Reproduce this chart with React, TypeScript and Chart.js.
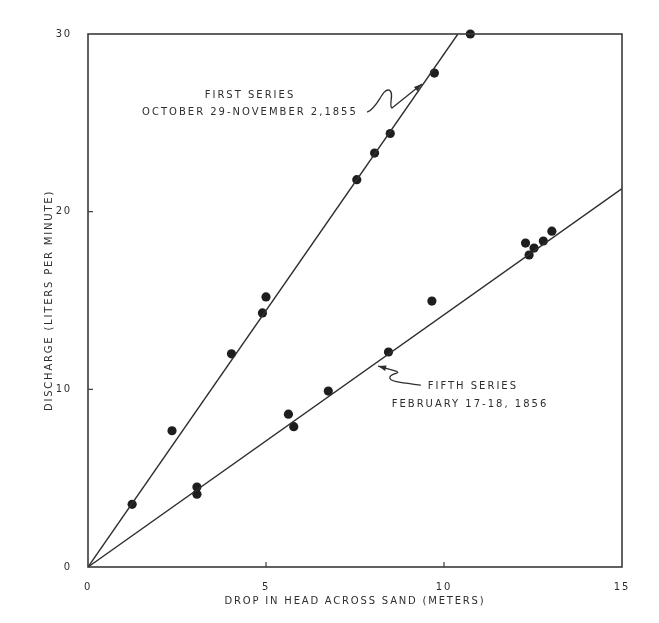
import React, { useEffect, useRef } from "react";
import { Chart, registerables } from "chart.js";

Chart.register(...registerables);

// ---- data ----
const xTickValues = [0, 5, 10, 15];
const yTickValues = [0, 10, 20, 30];

const firstSeriesX = [1.24, 2.36, 4.03, 4.9, 5.0, 7.55, 8.05, 8.49, 9.73, 10.74];
const firstSeriesY = [3.53, 7.67, 12.0, 14.3, 15.2, 21.8, 23.3, 24.4, 27.8, 30.0];

const fifthSeriesX = [3.06, 3.06, 5.63, 5.78, 6.75, 8.44, 9.66, 12.29, 12.39, 12.53, 12.79, 13.03];
const fifthSeriesY = [4.5, 4.1, 8.6, 7.9, 9.9, 12.1, 14.97, 18.23, 17.56, 17.95, 18.35, 18.9];

const firstFitX = [0, 10.39];
const firstFitY = [0, 30];
const fifthFitX = [0, 15];
const fifthFitY = [0, 21.3];

const xTitle = "DROP IN HEAD ACROSS SAND (METERS)";
const yTitle = "DISCHARGE (LITERS PER MINUTE)";

const noteTexts = ["FIRST SERIES", "OCTOBER 29-NOVEMBER 2,1855", "FIFTH SERIES", "FEBRUARY 17-18, 1856"];
const noteX = [4.55, 4.55, 10.81, 10.73];
const noteY = [26.56, 25.6, 10.19, 9.17];

// squiggly arrows (data units): start, two cubic segments, tip
const squiggles = [
  {
    start: [7.84, 25.6],
    curves: [
      [8.15, 25.83, 8.26, 26.96, 8.46, 26.84],
      [8.62, 26.73, 8.43, 25.94, 8.54, 25.83],
    ],
    tip: [9.38, 27.18],
  },
  {
    start: [9.35, 10.24],
    curves: [
      [8.9, 10.35, 8.43, 10.41, 8.48, 10.69],
      [8.54, 10.97, 8.82, 10.86, 8.65, 11.03],
    ],
    tip: [8.15, 11.31],
  },
];

const INK = "#2e2e2e";
const FONT = '"DejaVu Sans", "Liberation Sans", sans-serif';

const toPts = (xs: number[], ys: number[]) => xs.map((x, i) => ({ x, y: ys[i] }));

const decorPlugin = {
  id: "decor",
  beforeDraw(chart: any) {
    const ctx = chart.ctx;
    ctx.save();
    ctx.fillStyle = "#ffffff";
    ctx.fillRect(0, 0, chart.width, chart.height);
    ctx.restore();
    (ctx as any).letterSpacing = "1.8px";
  },
  afterDraw(chart: any) {
    const ctx = chart.ctx;
    const xs = chart.scales.x;
    const ys = chart.scales.y;
    const { left, right, top, bottom } = chart.chartArea;
    ctx.save();
    // frame
    ctx.strokeStyle = "#3a3a3a";
    ctx.lineWidth = 1.6;
    ctx.strokeRect(left, top, right - left, bottom - top);
    // inward tick marks
    ctx.lineWidth = 1.2;
    xTickValues.slice(1, -1).forEach((v) => {
      const px = xs.getPixelForValue(v);
      ctx.beginPath();
      ctx.moveTo(px, bottom);
      ctx.lineTo(px, bottom - 5);
      ctx.stroke();
    });
    yTickValues.slice(1, -1).forEach((v) => {
      const py = ys.getPixelForValue(v);
      ctx.beginPath();
      ctx.moveTo(left, py);
      ctx.lineTo(left + 5, py);
      ctx.stroke();
    });
    // notes
    (ctx as any).letterSpacing = "2px";
    ctx.fillStyle = INK;
    ctx.font = `10px ${FONT}`;
    ctx.textAlign = "center";
    ctx.textBaseline = "middle";
    noteTexts.forEach((t, i) => {
      ctx.fillText(t, xs.getPixelForValue(noteX[i]), ys.getPixelForValue(noteY[i]));
    });
    // squiggly arrows
    ctx.strokeStyle = INK;
    ctx.lineWidth = 1.3;
    squiggles.forEach((s) => {
      const P = (x: number, y: number) => [xs.getPixelForValue(x), ys.getPixelForValue(y)];
      const [sx, sy] = P(s.start[0], s.start[1]);
      ctx.beginPath();
      ctx.moveTo(sx, sy);
      let last = [sx, sy];
      s.curves.forEach((c) => {
        const [a, b] = P(c[0], c[1]);
        const [d, e] = P(c[2], c[3]);
        const [f, g] = P(c[4], c[5]);
        ctx.bezierCurveTo(a, b, d, e, f, g);
        last = [f, g];
      });
      const [tx, ty] = P(s.tip[0], s.tip[1]);
      ctx.lineTo(tx, ty);
      ctx.stroke();
      const ang = Math.atan2(ty - last[1], tx - last[0]);
      const L = 8, W = 2.8;
      ctx.beginPath();
      ctx.moveTo(tx, ty);
      ctx.lineTo(tx - L * Math.cos(ang) + W * Math.sin(ang), ty - L * Math.sin(ang) - W * Math.cos(ang));
      ctx.lineTo(tx - L * Math.cos(ang) - W * Math.sin(ang), ty - L * Math.sin(ang) + W * Math.cos(ang));
      ctx.closePath();
      ctx.fillStyle = INK;
      ctx.fill();
    });
    ctx.restore();
    (ctx as any).letterSpacing = "0px";
  },
};

export default function App() {
  const ref = useRef<HTMLCanvasElement | null>(null);
  useEffect(() => {
    if (!ref.current) return;
    const chart = new Chart(ref.current, {
      type: "scatter",
      data: {
        datasets: [
          {
            type: "line",
            data: toPts(firstFitX, firstFitY),
            borderColor: INK,
            borderWidth: 1.4,
            pointRadius: 0,
            fill: false,
          },
          {
            type: "line",
            data: toPts(fifthFitX, fifthFitY),
            borderColor: INK,
            borderWidth: 1.4,
            pointRadius: 0,
            fill: false,
          },
          {
            data: toPts(firstSeriesX, firstSeriesY),
            backgroundColor: "#1e1e1e",
            borderWidth: 0,
            pointRadius: 4.6,
            clip: false,
          },
          {
            data: toPts(fifthSeriesX, fifthSeriesY),
            backgroundColor: "#1e1e1e",
            borderWidth: 0,
            pointRadius: 4.6,
            clip: false,
          },
        ] as any,
      },
      options: {
        responsive: false,
        animation: false,
        events: [],
        layout: { padding: { top: 34, right: 37, left: 0, bottom: 0 } },
        plugins: {
          legend: { display: false },
          tooltip: { enabled: false },
        },
        scales: {
          x: {
            type: "linear",
            min: 0,
            max: 15,
            afterBuildTicks: (s: any) => {
              s.ticks = xTickValues.map((v) => ({ value: v }));
            },
            afterFit: (s: any) => {
              s.height = 56;
            },
            grid: { display: false },
            border: { display: false },
            ticks: {
              color: INK,
              font: { family: FONT, size: 10 },
              padding: 6,
              maxRotation: 0,
            },
            title: {
              display: true,
              text: xTitle,
              color: INK,
              font: { family: FONT, size: 10 },
              padding: { top: 16, bottom: 16 },
            },
          },
          y: {
            type: "linear",
            min: 0,
            max: 30,
            afterBuildTicks: (s: any) => {
              s.ticks = yTickValues.map((v) => ({ value: v }));
            },
            afterFit: (s: any) => {
              s.width = 88;
            },
            grid: { display: false },
            border: { display: false },
            ticks: {
              color: INK,
              font: { family: FONT, size: 10 },
              padding: 8,
            },
            title: {
              display: true,
              text: yTitle,
              color: INK,
              font: { family: FONT, size: 10 },
              padding: { top: 43, bottom: 43 },
            },
          },
        },
      },
      plugins: [decorPlugin],
    } as any);
    return () => chart.destroy();
  }, []);
  return (
    <div style={{ position: "fixed", left: 0, top: 0, width: 659, height: 623, background: "#fff" }}>
      <canvas ref={ref} width={659} height={623} style={{ display: "block" }} />
    </div>
  );
}
